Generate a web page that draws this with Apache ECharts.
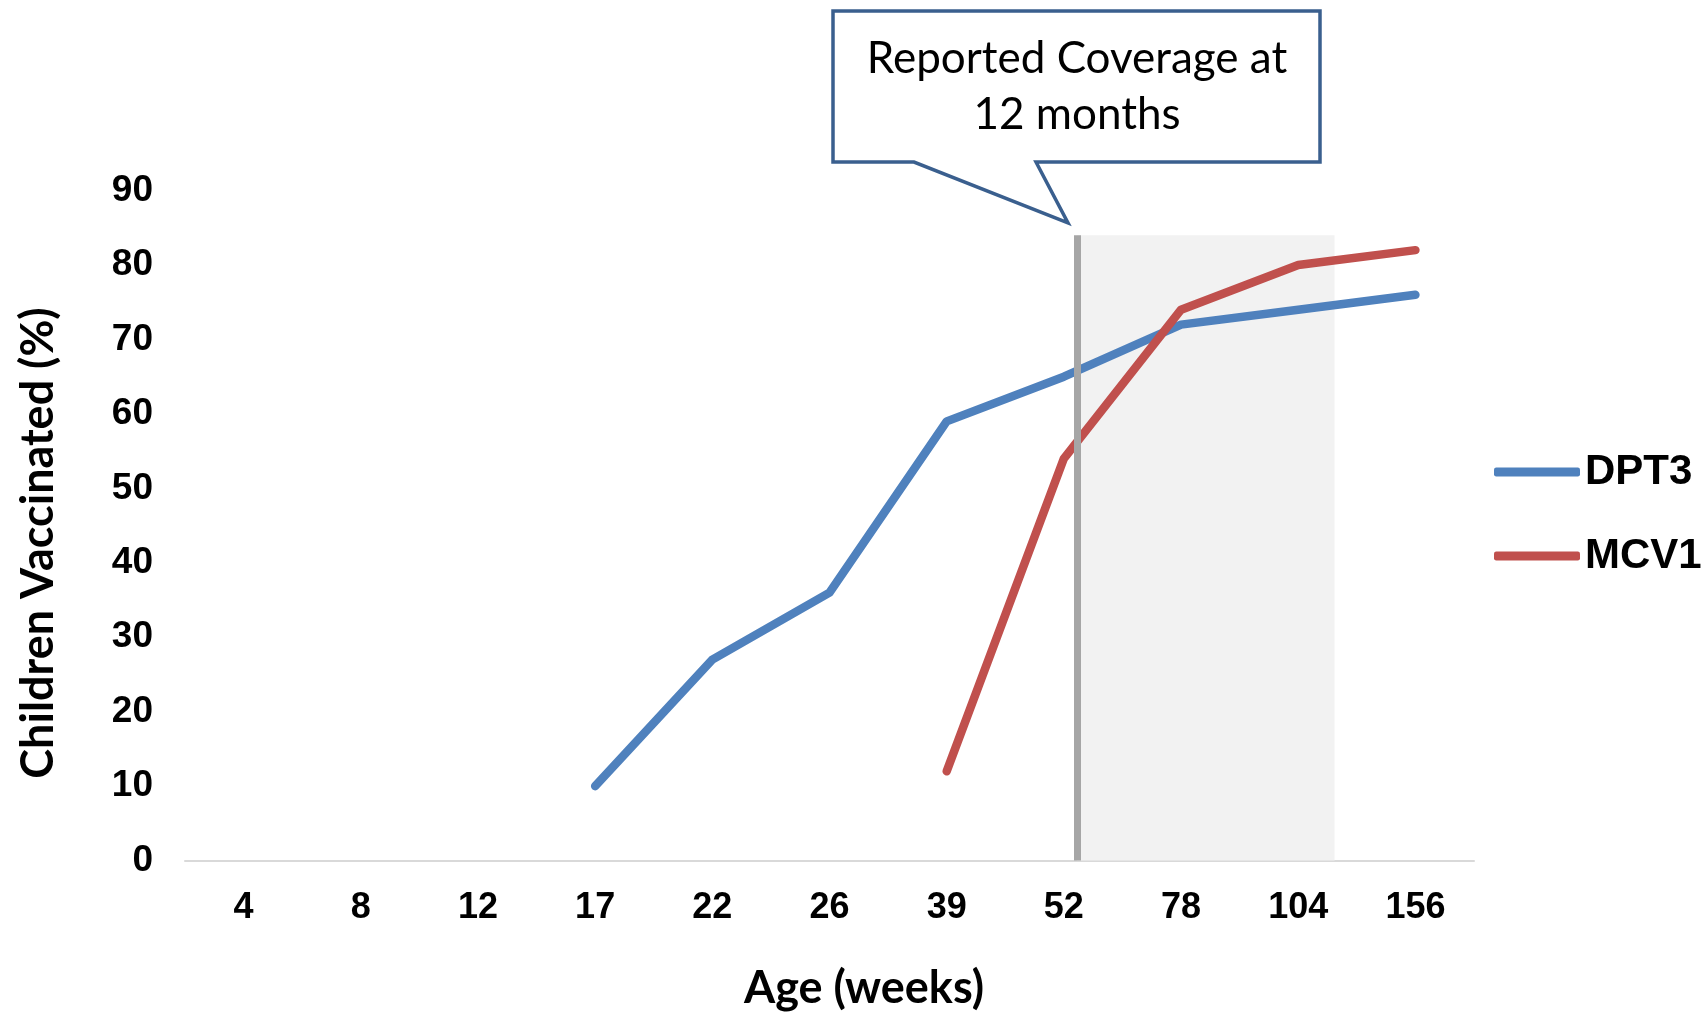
<!DOCTYPE html>
<html>
<head>
<meta charset="utf-8">
<script src="https://cdn.jsdelivr.net/npm/echarts@6/dist/echarts.min.js"></script>
<style>
  html, body { margin: 0; padding: 0; background: #ffffff; }
  #chart { width: 1708px; height: 1012px; }
</style>
</head>
<body>
<div id="chart"></div>
<script>
// Age at which coverage was measured (weeks)
const ageWeeks = ['4', '8', '12', '17', '22', '26', '39', '52', '78', '104', '156'];
// Share of children vaccinated (%), null where the dose is not yet due
const dpt3 = [null, null, null, 10, 27, 36, 59, 65, 72, 74, 76];
const mcv1 = [null, null, null, null, null, null, 12, 54, 74, 80, 82];
const yTicks = [0, 10, 20, 30, 40, 50, 60, 70, 80, 90];

// Shaded window after 12 months, on a 0..11 position scale across the categories
const windowStart = 7.61;
const windowEnd = 9.81;
const windowTop = 84;

const chart = echarts.init(document.getElementById('chart'));

const boldArial = 'Liberation Sans, Arial, sans-serif';
const titleFont = 'Lato, Open Sans, sans-serif';

chart.setOption({
  animation: false,
  backgroundColor: '#ffffff',
  grid: { left: 185, right: 234, top: 190.6, bottom: 151.4, containLabel: false },
  xAxis: [
    {
      type: 'category',
      data: ageWeeks,
      boundaryGap: true,
      axisLine: { show: true, lineStyle: { color: '#d9d9d9', width: 2 } },
      axisTick: { show: false },
      axisLabel: {
        margin: 29,
        color: '#000',
        fontFamily: boldArial,
        fontWeight: 'bold',
        fontSize: 36
      },
      splitLine: { show: false }
    },
    {
      type: 'value',
      min: 0,
      max: 11,
      show: false
    }
  ],
  yAxis: {
    type: 'value',
    min: yTicks[0],
    max: yTicks[yTicks.length - 1],
    interval: 10,
    axisLine: { show: false },
    axisTick: { show: false },
    splitLine: { show: false },
    axisLabel: {
      margin: 32,
      color: '#000',
      fontFamily: boldArial,
      fontWeight: 'bold',
      fontSize: 37
    }
  },
  legend: {
    orient: 'vertical',
    left: 1494,
    top: 451,
    padding: 0,
    itemWidth: 86,
    itemHeight: 9,
    itemGap: 42,
    icon: 'roundRect',
    textStyle: {
      color: '#000',
      fontFamily: boldArial,
      fontWeight: 'bold',
      fontSize: 42,
      padding: [0, 0, 0, 0]
    },
    data: ['DPT3', 'MCV1']
  },
  series: [
    {
      name: 'window',
      type: 'line',
      xAxisIndex: 1,
      data: [],
      silent: true,
      z: 1,
      markArea: {
        silent: true,
        itemStyle: { color: '#f2f2f2' },
        data: [[{ coord: [windowStart, 0] }, { coord: [windowEnd, windowTop] }]]
      },
      markLine: {
        silent: true,
        symbol: ['none', 'none'],
        label: { show: false },
        lineStyle: { color: '#a6a6a6', width: 7, type: 'solid' },
        data: [[{ coord: [windowStart, 0] }, { coord: [windowStart, windowTop] }]]
      }
    },
    {
      name: 'DPT3',
      type: 'line',
      data: dpt3,
      z: 3,
      symbol: 'none',
      lineStyle: { color: '#4f81bd', width: 8.5, cap: 'round', join: 'round' },
      itemStyle: { color: '#4f81bd' }
    },
    {
      name: 'MCV1',
      type: 'line',
      data: mcv1,
      z: 4,
      symbol: 'none',
      lineStyle: { color: '#c0504d', width: 8.5, cap: 'round', join: 'round' },
      itemStyle: { color: '#c0504d' }
    }
  ],
  graphic: [
    // Callout pointing at the 12-month mark
    {
      type: 'polygon',
      z: 10,
      shape: {
        points: [[833, 11], [1320, 11], [1320, 162], [1036, 162], [1068, 223], [914, 162], [833, 162]]
      },
      style: { fill: '#ffffff', stroke: '#3a5f8e', lineWidth: 3.5, lineJoin: 'miter' }
    },
    {
      type: 'text',
      z: 11,
      x: 1077,
      y: 59,
      style: {
        text: 'Reported Coverage at',
        fill: '#000',
        font: '44px ' + titleFont,
        align: 'center',
        verticalAlign: 'middle'
      }
    },
    {
      type: 'text',
      z: 11,
      x: 1077,
      y: 115,
      style: {
        text: '12 months',
        fill: '#000',
        font: '44px ' + titleFont,
        align: 'center',
        verticalAlign: 'middle'
      }
    },
    // Axis titles
    {
      type: 'text',
      x: 38,
      y: 543,
      rotation: Math.PI / 2,
      style: {
        text: 'Children Vaccinated (%)',
        fill: '#000',
        font: 'bold 45px ' + titleFont,
        align: 'center',
        verticalAlign: 'middle'
      }
    },
    {
      type: 'text',
      x: 864,
      y: 988,
      style: {
        text: 'Age (weeks)',
        fill: '#000',
        font: 'bold 45px ' + titleFont,
        align: 'center',
        verticalAlign: 'middle'
      }
    }
  ]
});
</script>
</body>
</html>
